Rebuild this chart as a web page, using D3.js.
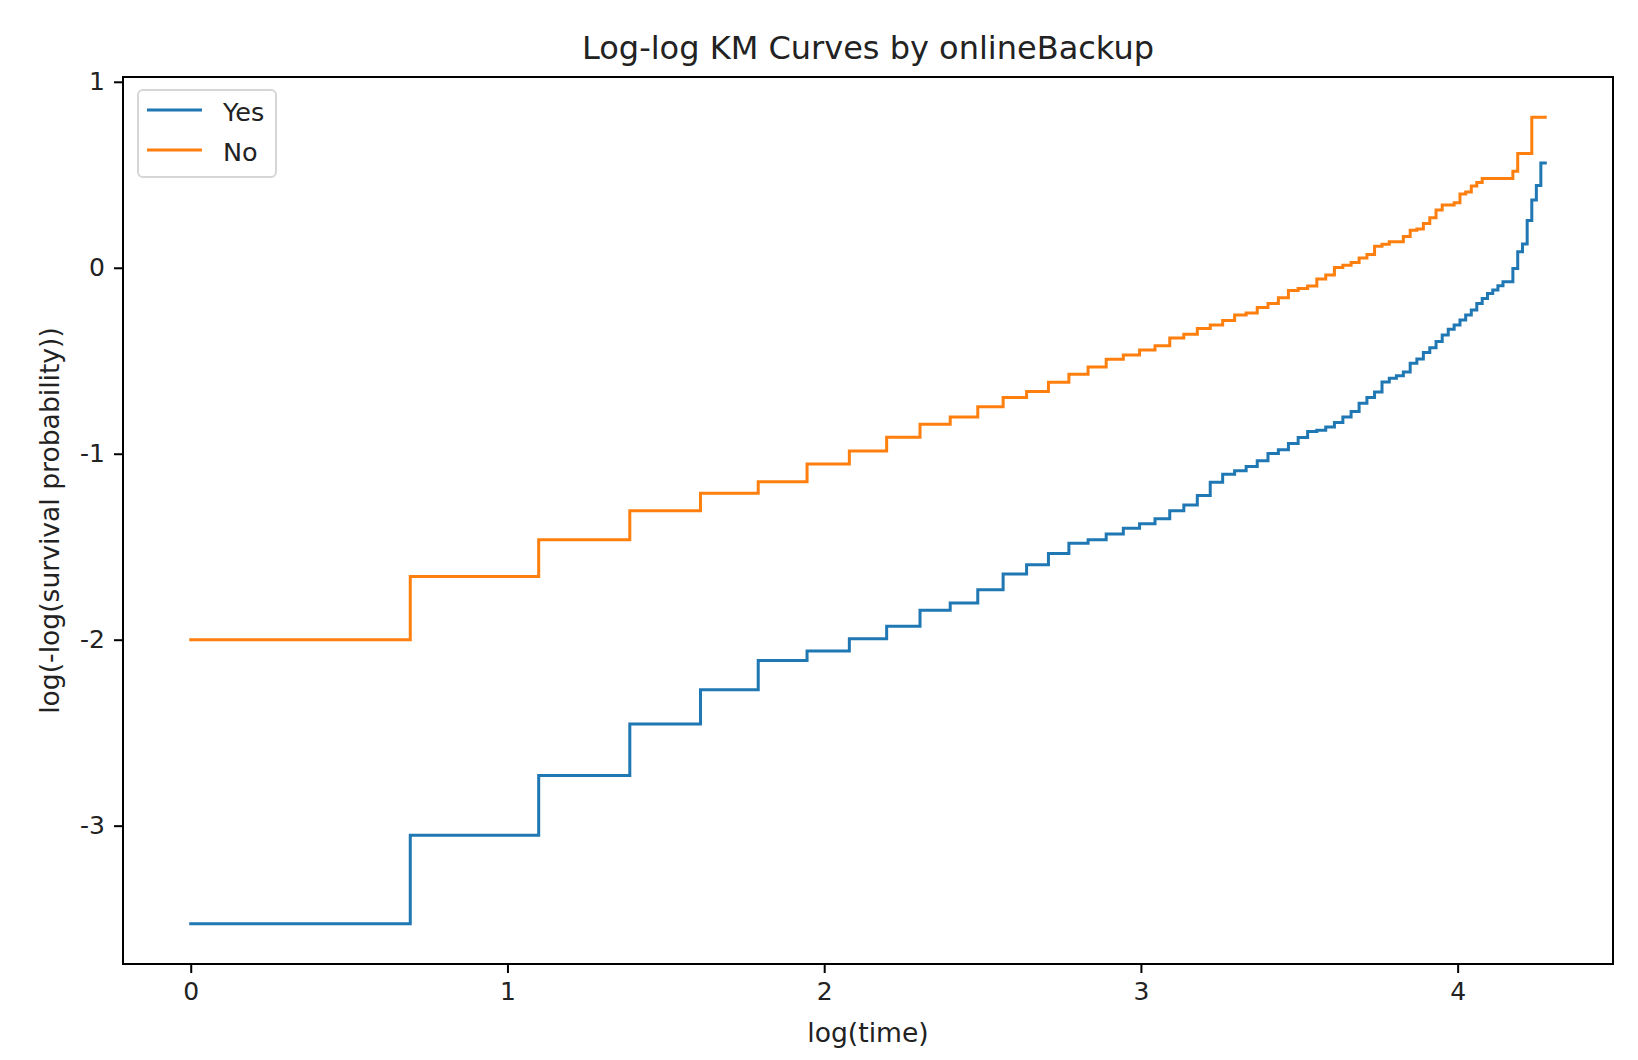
<!DOCTYPE html>
<html>
<head>
<meta charset="utf-8">
<script src="https://cdn.jsdelivr.net/npm/d3@7"></script>
<style>
  body { margin: 0; background: #fff; }
  svg { display: block; }
</style>
</head>
<body>
<div id="chart"></div>
<script>
// tenure in months (x is plotted as log(time))
const months = [1, 2, 3, 4, 5, 6, 7, 8, 9, 10, 11, 12, 13, 14, 15, 16, 17, 18, 19, 20,
  21, 22, 23, 24, 25, 26, 27, 28, 29, 30, 31, 32, 33, 34, 35, 36, 37, 38, 39, 40,
  41, 42, 43, 44, 45, 46, 47, 48, 49, 50, 51, 52, 53, 54, 55, 56, 57, 58, 59, 60,
  61, 62, 63, 64, 65, 66, 67, 68, 69, 70, 71, 72];

// log(-log(S(t)))
const yesValues = [-3.527, -3.052, -2.730, -2.453, -2.269, -2.112, -2.061, -1.995, -1.928, -1.842,
  -1.803, -1.731, -1.647, -1.597, -1.536, -1.482, -1.462, -1.432, -1.400, -1.376,
  -1.350, -1.307, -1.275, -1.224, -1.153, -1.110, -1.092, -1.069, -1.038, -0.999,
  -0.979, -0.945, -0.913, -0.881, -0.874, -0.856, -0.832, -0.802, -0.773, -0.729,
  -0.698, -0.668, -0.614, -0.594, -0.581, -0.560, -0.514, -0.490, -0.455, -0.430,
  -0.397, -0.362, -0.331, -0.308, -0.281, -0.254, -0.227, -0.192, -0.165, -0.138,
  -0.120, -0.097, -0.075, -0.075, -0.004, 0.086, 0.128, 0.254, 0.364, 0.442,
  0.563, 0.563];

const noValues = [-2.000, -1.660, -1.462, -1.307, -1.212, -1.150, -1.055, -0.985, -0.911, -0.841,
  -0.802, -0.748, -0.698, -0.666, -0.616, -0.573, -0.533, -0.492, -0.469, -0.442,
  -0.419, -0.377, -0.358, -0.326, -0.308, -0.283, -0.254, -0.243, -0.213, -0.192,
  -0.161, -0.122, -0.111, -0.098, -0.061, -0.039, 0.002, 0.014, 0.028, 0.052,
  0.072, 0.116, 0.127, 0.140, 0.140, 0.168, 0.202, 0.208, 0.238, 0.269,
  0.310, 0.337, 0.337, 0.349, 0.396, 0.408, 0.440, 0.458, 0.480, 0.480,
  0.480, 0.480, 0.480, 0.480, 0.519, 0.614, 0.614, 0.614, 0.809, 0.809,
  0.809, 0.809];

const seriesNames = ["Yes", "No"];
const seriesColors = ["#1f77b4", "#ff7f0e"];
const xTicks = [0, 1, 2, 3, 4];
const yTicks = [-3, -2, -1, 0, 1];

const chartTitle = "Log-log KM Curves by onlineBackup";
const xLabel = "log(time)";
const yLabel = "log(-log(survival probability))";

const width = 1638, height = 1060;
const margin = { top: 77, right: 25, bottom: 96, left: 123 };
const font = "DejaVu Sans, Verdana, sans-serif";

const series = seriesNames.map((name, i) => ({
  name: name,
  color: seriesColors[i],
  values: months.map((m, j) => ({ x: Math.log(m), y: (i === 0 ? yesValues : noValues)[j] }))
}));

// matplotlib style 5% margins
function padded(ext) {
  let pad = (ext[1] - ext[0]) * 0.05;
  return [ext[0] - pad, ext[1] + pad];
}
let allPts = series.flatMap(s => s.values);

let x = d3.scaleLinear()
  .domain(padded(d3.extent(allPts, d => d.x)))
  .range([margin.left, width - margin.right]);

let y = d3.scaleLinear()
  .domain(padded(d3.extent(allPts, d => d.y)))
  .range([height - margin.bottom, margin.top]);

let svg = d3.select("#chart")
  .append("svg")
  .attr("width", width)
  .attr("height", height)
  .attr("viewBox", [0, 0, width, height])
  .attr("font-family", font);

let line = d3.line()
  .x(d => x(d.x))
  .y(d => y(d.y))
  .curve(d3.curveStepAfter);

svg.append("g")
  .attr("fill", "none")
  .selectAll("path")
  .data(series)
  .join("path")
  .attr("stroke", d => d.color)
  .attr("stroke-width", 3)
  .attr("stroke-linecap", "square")
  .attr("d", d => line(d.values));

// axes
let xAxis = svg.append("g")
  .attr("transform", `translate(0,${height - margin.bottom})`)
  .call(d3.axisBottom(x).tickValues(xTicks).tickFormat(d3.format("d")).tickSize(9).tickPadding(9));

let yAxis = svg.append("g")
  .attr("transform", `translate(${margin.left},0)`)
  .call(d3.axisLeft(y).tickValues(yTicks).tickFormat(d => String(d)).tickSize(9).tickPadding(9));

[xAxis, yAxis].forEach(g => {
  g.select(".domain").remove();
  g.selectAll(".tick line").attr("stroke", "#000").attr("stroke-width", 2);
  g.selectAll(".tick text")
    .attr("fill", "#222")
    .attr("font-family", font)
    .attr("font-size", 25);
});

// frame
svg.append("rect")
  .attr("x", margin.left)
  .attr("y", margin.top)
  .attr("width", width - margin.left - margin.right)
  .attr("height", height - margin.top - margin.bottom)
  .attr("fill", "none")
  .attr("stroke", "#000")
  .attr("stroke-width", 2);

// title and labels
svg.append("text")
  .attr("x", (margin.left + width - margin.right) / 2)
  .attr("y", 59)
  .attr("text-anchor", "middle")
  .attr("font-size", 32)
  .attr("fill", "#222")
  .text(chartTitle);

svg.append("text")
  .attr("x", (margin.left + width - margin.right) / 2)
  .attr("y", 1042)
  .attr("text-anchor", "middle")
  .attr("font-size", 26.6)
  .attr("fill", "#222")
  .text(xLabel);

svg.append("text")
  .attr("transform", `translate(59,${(margin.top + height - margin.bottom) / 2}) rotate(-90)`)
  .attr("text-anchor", "middle")
  .attr("font-size", 26.6)
  .attr("fill", "#222")
  .text(yLabel);

// legend
let legend = svg.append("g").attr("transform", `translate(${margin.left + 15},${margin.top + 13})`);

legend.append("rect")
  .attr("width", 138)
  .attr("height", 87)
  .attr("rx", 5)
  .attr("fill", "#fff")
  .attr("fill-opacity", 0.8)
  .attr("stroke", "#d6d6d6")
  .attr("stroke-width", 2);

let items = legend.selectAll("g.item")
  .data(series)
  .join("g")
  .attr("class", "item")
  .attr("transform", (d, i) => `translate(0,${20 + i * 40})`);

items.append("line")
  .attr("x1", 9)
  .attr("x2", 64)
  .attr("stroke", d => d.color)
  .attr("stroke-width", 3);

items.append("text")
  .attr("x", 85)
  .attr("y", 2)
  .attr("dy", "0.36em")
  .attr("font-size", 25.5)
  .attr("fill", "#222")
  .text(d => d.name);
</script>
</body>
</html>
